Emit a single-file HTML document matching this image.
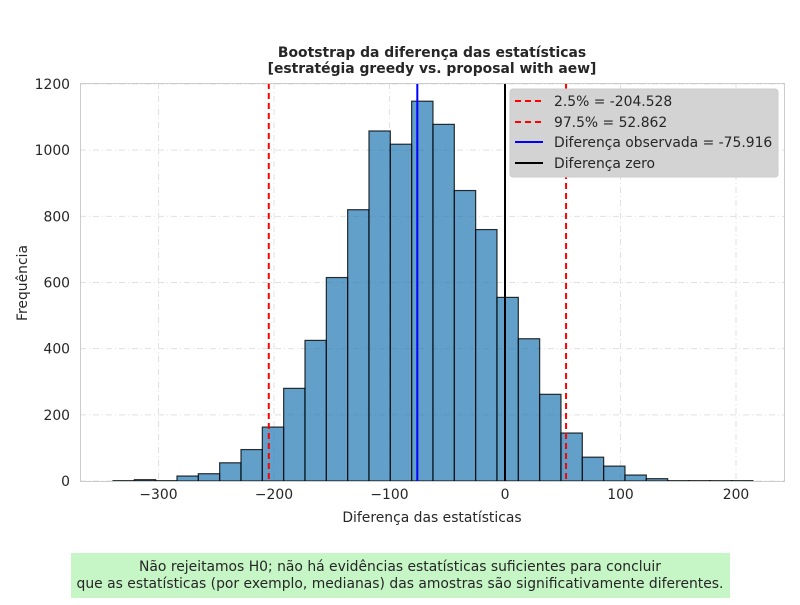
<!DOCTYPE html>
<html><head><meta charset="utf-8"><style>
body{margin:0;background:#fff;width:800px;height:600px;overflow:hidden}
svg text{font-family:"DejaVu Sans","Liberation Sans",sans-serif;fill:#262626}
</style></head><body>
<svg id="chart" width="800" height="600" xmlns="http://www.w3.org/2000/svg">
<text x="432" y="57" text-anchor="middle" font-size="13.9" font-weight="bold">Bootstrap da diferença das estatísticas</text>
<text x="432" y="73" text-anchor="middle" font-size="13.9" font-weight="bold">[estratégia greedy vs. proposal with aew]</text>
<g id="grid"></g>
<g id="bars"></g>
<g id="vlines"></g>
<rect x="80.5" y="83.5" width="704" height="398" fill="none" stroke="#cccccc"/>
<g id="ticks"></g>
<text x="432" y="522" text-anchor="middle" font-size="13.9">Diferença das estatísticas</text>
<text transform="translate(27,283) rotate(-90)" text-anchor="middle" font-size="13.9">Frequência</text>
<g>
<rect x="510" y="89" width="268" height="88" rx="3" fill="#d3d3d3" stroke="#cccccc"/>
<line x1="515" y1="101" x2="543" y2="101" stroke="red" stroke-width="2" stroke-dasharray="6,4"/>
<text x="554" y="106" font-size="13.9">2.5% = -204.528</text>
<line x1="515" y1="122" x2="543" y2="122" stroke="red" stroke-width="2" stroke-dasharray="6,4"/>
<text x="554" y="127" font-size="13.9">97.5% = 52.862</text>
<line x1="515" y1="142" x2="543" y2="142" stroke="blue" stroke-width="2"/>
<text x="554" y="147" font-size="13.9">Diferença observada = -75.916</text>
<line x1="515" y1="163" x2="543" y2="163" stroke="black" stroke-width="2"/>
<text x="554" y="168" font-size="13.9">Diferença zero</text>
</g>
<rect x="71" y="553" width="659" height="45" fill="#c6f5c6"/>
<text x="400" y="571" text-anchor="middle" font-size="13.9">Não rejeitamos H0; não há evidências estatísticas suficientes para concluir</text>
<text x="400" y="588" text-anchor="middle" font-size="13.9">que as estatísticas (por exemplo, medianas) das amostras são significativamente diferentes.</text>
</svg>
<script>
const binStart = -339.4;
const binWidth = 18.47;
const counts = [1,4,1,15,22,55,95,163,280,425,615,820,1058,1018,1148,1078,878,760,555,430,262,145,72,45,18,7,1,1,1,1];
const xTicks = [-300,-200,-100,0,100,200];
const yTicks = [0,200,400,600,800,1000,1200];
const ciLow = -204.528, ciHigh = 52.862, observed = -75.916, zero = 0;
const NS = "http://www.w3.org/2000/svg";
function xs(v){return 505 + v*1.155;}
function ys(v){return 481 - v*(397/1200);}
function mk(tag, attrs, parent){const e=document.createElementNS(NS,tag);for(const k in attrs)e.setAttribute(k,attrs[k]);parent.appendChild(e);return e;}
const grid=document.getElementById('grid'), bars=document.getElementById('bars'), ticks=document.getElementById('ticks'), vl=document.getElementById('vlines');
xTicks.forEach(t=>{
  const l=mk('line',{x1:xs(t),x2:xs(t),y1:83,y2:481,stroke:'#e0e0e0','stroke-dasharray':'6,3,1,3'},grid);
  
  
  const tx=mk('text',{x:xs(t),y:499,'text-anchor':'middle','font-size':'13.9'},ticks);
  tx.textContent=(t<0?'\u2212'+(-t):t);
  
  
});
yTicks.forEach(t=>{
  const l=mk('line',{x1:80,x2:785,y1:ys(t),y2:ys(t),stroke:'#e0e0e0','stroke-dasharray':'6,3,1,3'},grid);
  
  
  const tx=mk('text',{x:70,y:ys(t)+5,'text-anchor':'end','font-size':'13.9'},ticks);
  tx.textContent=t;
  
  
});
counts.forEach((c,i)=>{
  const x0=xs(binStart+i*binWidth), x1=xs(binStart+(i+1)*binWidth);
  const r=mk('rect',{x:x0,y:ys(c),width:x1-x0,height:ys(0)-ys(c),fill:'#1f77b4','fill-opacity':0.7,stroke:'#000','stroke-opacity':0.8,'stroke-width':1.2},bars);
  
  
});
[[ciLow,'red',true,'ci-lower-line'],[ciHigh,'red',true,'ci-upper-line'],[observed,'blue',false,'observed-line'],[zero,'black',false,'zero-line']].forEach(d=>{
  const a={x1:xs(d[0]),x2:xs(d[0]),y1:83,y2:481,stroke:d[1],'stroke-width':2};
  if(d[2])a['stroke-dasharray']='6,4';
  const l=mk('line',a,vl);
  
  
});
</script>
</body></html>
